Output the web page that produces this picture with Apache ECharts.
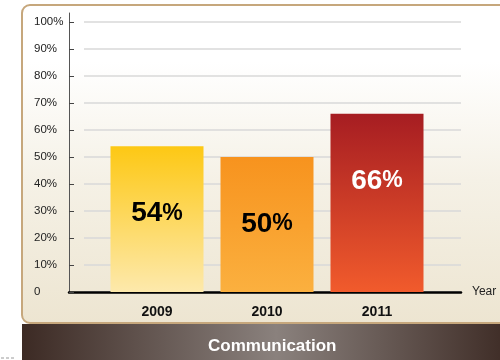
<!DOCTYPE html>
<html>
<head>
<meta charset="utf-8">
<style>
  html, body { margin: 0; padding: 0; background: #ffffff; }
  #chart { width: 500px; height: 360px; }
</style>
<script src="https://cdn.jsdelivr.net/npm/echarts@6/dist/echarts.min.js"></script>
</head>
<body>
<div id="chart"></div>
<script>
// Share of communication by year (percent)
const years = ['2009', '2010', '2011'];
const shares = [54, 50, 66];
const yTicks = [0, 10, 20, 30, 40, 50, 60, 70, 80, 90, 100];

// Bar styling, one entry per year
const barTopColors = ['#fdc814', '#f7931e', '#a61d22'];
const barBottomColors = ['#fde9ac', '#fbb03f', '#f15b2c'];
const labelColors = ['#000000', '#000000', '#ffffff'];

const FONT = 'Liberation Sans, Arial, sans-serif';

const chart = echarts.init(document.getElementById('chart'), null, { renderer: 'canvas' });

const barData = shares.map((v, i) => ({
  value: v,
  itemStyle: {
    color: new echarts.graphic.LinearGradient(0, 0, 0, 1, [
      { offset: 0, color: barTopColors[i] },
      { offset: 1, color: barBottomColors[i] }
    ])
  },
  label: {
    rich: {
      n: { fontSize: 28, fontWeight: 'bold', color: labelColors[i], fontFamily: FONT },
      p: { fontSize: 23, fontWeight: 'bold', color: labelColors[i], fontFamily: FONT }
    }
  }
}));

const yMin = yTicks[0];
const yMax = yTicks[yTicks.length - 1];
const yStep = yTicks[1] - yTicks[0];

const option = {
  animation: false,
  textStyle: { fontFamily: FONT },
  title: {
    text: 'Communication',
    left: 203,
    top: 333,
    textStyle: { color: '#ffffff', fontSize: 17, fontWeight: 'bold', fontFamily: FONT }
  },
  graphic: [
    {
      type: 'rect',
      z: -10,
      shape: { x: 22, y: 5, width: 500, height: 318, r: 8 },
      style: {
        fill: new echarts.graphic.LinearGradient(0, 0, 0, 1, [
          { offset: 0, color: '#ffffff' },
          { offset: 0.18, color: '#ffffff' },
          { offset: 0.55, color: '#f5f1e6' },
          { offset: 1, color: '#ede5d1' }
        ]),
        stroke: '#c6a77c',
        lineWidth: 2
      }
    },
    {
      type: 'rect',
      z: -9,
      shape: { x: 22, y: 324, width: 480, height: 40 },
      style: {
        fill: new echarts.graphic.LinearGradient(0, 0, 1, 0, [
          { offset: 0, color: '#3c2a24' },
          { offset: 0.53, color: '#8a817d' },
          { offset: 1, color: '#402e28' }
        ])
      }
    },
    {
      type: 'line',
      z: -9,
      shape: { x1: 1, y1: 358, x2: 15, y2: 358 },
      style: { stroke: '#9a9a9a', lineWidth: 1, lineDash: [3, 2] }
    }
  ],
  grid: [
    // horizontal guide lines
    { left: 84, right: 39, top: 22, bottom: 68 },
    // value axis labels, ticks and the baseline
    { left: 69, right: 39, top: 22, bottom: 68 },
    // vertical axis line, running a little above the top tick
    { left: 69, right: 39, top: 13, bottom: 68 },
    // bars
    { left: 102, right: 68, top: 22, bottom: 68 }
  ],
  xAxis: [
    { gridIndex: 0, type: 'value', show: false },
    {
      gridIndex: 1, type: 'value', min: 0, max: 1,
      name: 'Year', nameLocation: 'end', nameGap: 11,
      nameTextStyle: { color: '#222222', fontSize: 12, fontFamily: FONT, verticalAlign: 'middle' },
      axisLine: { show: true, lineStyle: { color: '#000000', width: 2.5 } },
      axisTick: { show: false },
      axisLabel: { show: false },
      splitLine: { show: false }
    },
    { gridIndex: 2, type: 'value', show: false },
    {
      gridIndex: 3, type: 'category', data: years,
      axisLine: { show: false },
      axisTick: { show: false },
      axisLabel: { color: '#111111', fontSize: 14, fontWeight: 'bold', margin: 13, fontFamily: FONT }
    }
  ],
  yAxis: [
    {
      gridIndex: 0, type: 'value', min: yMin, max: yMax, interval: yStep,
      axisLine: { show: false }, axisTick: { show: false }, axisLabel: { show: false },
      splitLine: { show: true, lineStyle: { color: '#d9d9d9', width: 1.5 } }
    },
    {
      gridIndex: 1, type: 'value', min: yMin, max: yMax, interval: yStep,
      axisLine: { show: false },
      axisTick: { show: true, inside: true, length: 5, lineStyle: { color: '#444444', width: 1 } },
      axisLabel: {
        align: 'left', margin: 35, color: '#222222', fontSize: 11.5, fontFamily: FONT,
        formatter: v => (v === 0 ? '0' : v + '%')
      },
      splitLine: { show: false }
    },
    {
      gridIndex: 2, type: 'value', min: 0, max: 1,
      axisLine: { show: true, lineStyle: { color: '#555555', width: 1 } },
      axisTick: { show: false }, axisLabel: { show: false }, splitLine: { show: false }
    },
    { gridIndex: 3, type: 'value', min: yMin, max: yMax, show: false }
  ],
  series: [
    {
      type: 'bar',
      xAxisIndex: 3,
      yAxisIndex: 3,
      barWidth: 93,
      data: barData,
      label: {
        show: true,
        position: 'insideTop',
        distance: 53,
        formatter: p => '{n|' + p.value + '}{p|%}'
      }
    }
  ]
};

chart.setOption(option);
</script>
</body>
</html>
